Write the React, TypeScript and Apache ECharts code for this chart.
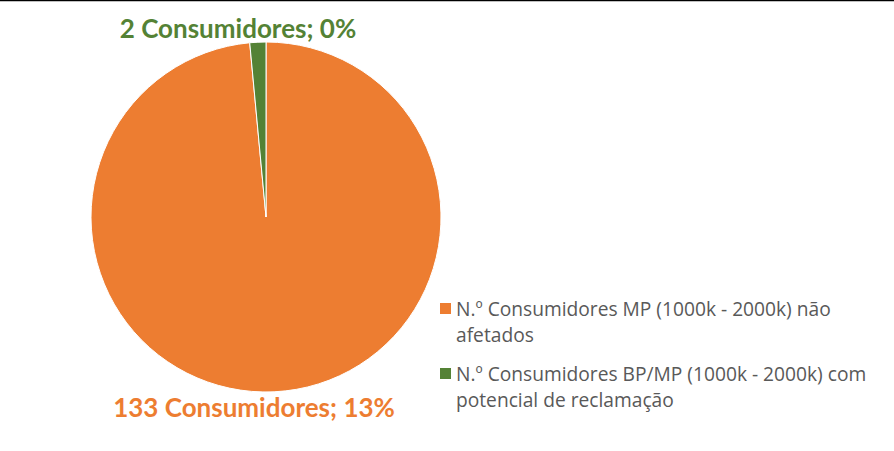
import React, { useEffect, useRef } from "react";
import * as echarts from "echarts";

const categories = [
  "N.º Consumidores MP (1000k - 2000k) não\nafetados",
  "N.º Consumidores BP/MP (1000k - 2000k) com\npotencial de reclamação",
];
const values = [133, 2];
const shownPercents = ["13%", "0%"];
const colors = ["#ED7D31", "#548235"];

export default function App() {
  const ref = useRef<HTMLDivElement>(null);
  useEffect(() => {
    document.body.style.margin = "0";
    const chart = echarts.init(ref.current!, undefined, { renderer: "svg" });
    const labelPos = [
      { x: 254, y: 407 },
      { x: 238, y: 28 },
    ];
    const legendTops = [295.5, 360.5];
    // square at top of a tall box so the icon lines up with the first text line
    const topSquare = "path://M0,0L11,0L11,11L0,11Z M0,37L0.01,37L0.01,36.99Z";
    chart.setOption({
      animation: false,
      backgroundColor: "#ffffff",
      legend: categories.map((name, i) => ({
        show: true,
        data: [name],
        orient: "vertical",
        left: 440,
        top: legendTops[i],
        padding: 0,
        itemWidth: 11,
        itemHeight: 37,
        icon: topSquare,
        selectedMode: false,
        itemStyle: { borderWidth: 0 },
        textStyle: {
          fontFamily: "Open Sans",
          fontSize: 19.2,
          color: "#595959",
          lineHeight: 26,
        },
      })),
      graphic: [
        {
          type: "line",
          shape: { x1: 0, y1: 0.5, x2: 894, y2: 0.5 },
          style: { stroke: "#000", lineWidth: 1.5 },
          silent: true,
        },
      ],
      series: [
        {
          type: "pie",
          center: [266, 217],
          radius: 175,
          startAngle: 90,
          clockwise: true,
          avoidLabelOverlap: false,
          itemStyle: { borderColor: "#ffffff", borderWidth: 1 },
          label: {
            show: true,
            position: "outside",
            fontFamily: "Lato",
            fontWeight: "bold",
            fontSize: 26,
            formatter: (p: any) => `${values[p.dataIndex]} Consumidores; ${shownPercents[p.dataIndex]}`,
          },
          labelLine: { show: false },
          labelLayout: (params: any) => ({
            x: labelPos[params.dataIndex].x,
            y: labelPos[params.dataIndex].y,
            align: "center",
            verticalAlign: "middle",
          }),
          emphasis: { disabled: true },
          data: categories.map((name, i) => ({
            name,
            value: values[i],
            itemStyle: { color: colors[i] },
            label: { color: colors[i] },
          })),
        },
      ],
    });
    return () => chart.dispose();
  }, []);
  return <div ref={ref} style={{ width: 894, height: 451 }} />;
}
